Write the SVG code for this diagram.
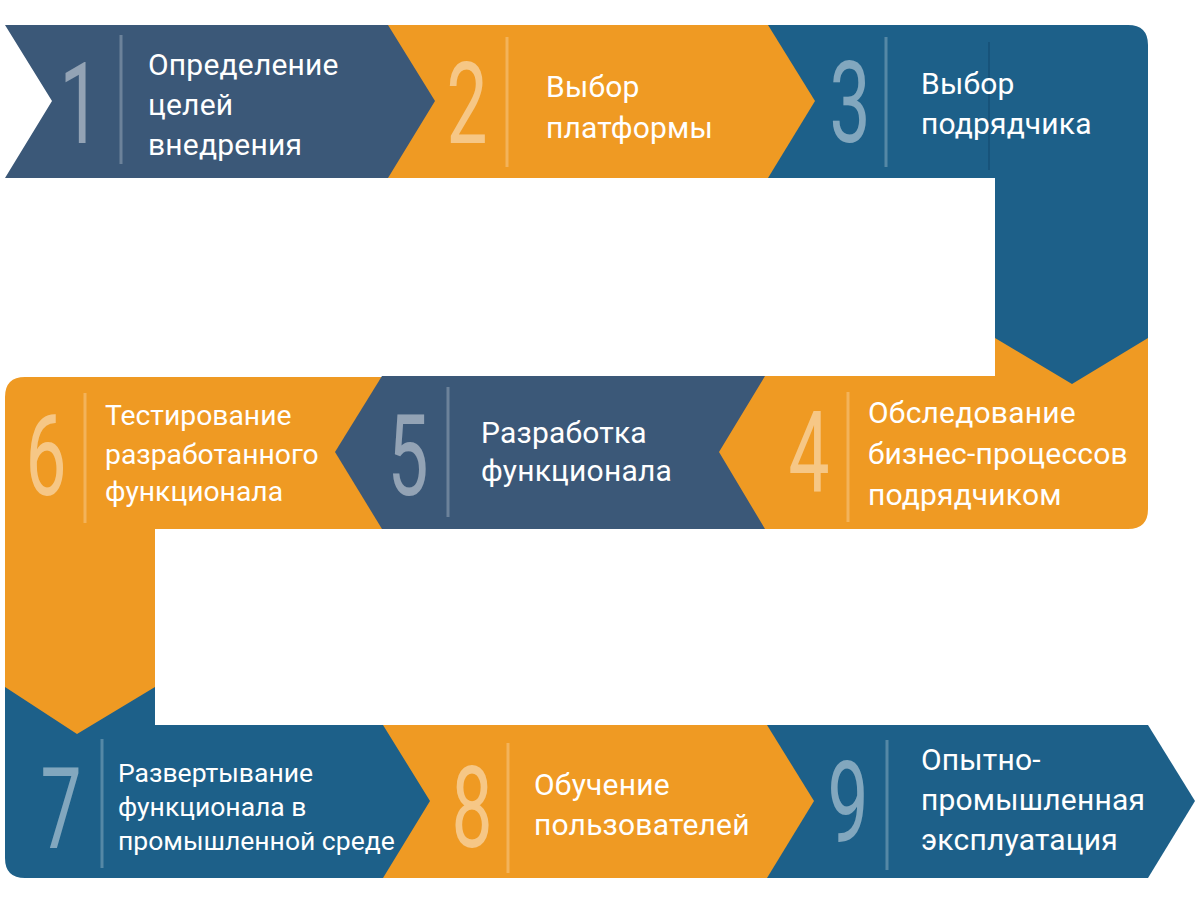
<svg xmlns="http://www.w3.org/2000/svg" width="1200" height="915" viewBox="0 0 1200 915">
<style>
.slate{fill:#3B5878}
.orange{fill:#EF9A23}
.blue{fill:#1D6089}
.num{font-family:Roboto,"Liberation Sans",sans-serif;font-weight:400;font-size:114px;fill:#fff;fill-opacity:0.45;text-anchor:middle}
.div{stroke:#fff;stroke-opacity:0.25;stroke-width:3}
.lbl{font-family:Roboto,"Liberation Sans",sans-serif;font-size:30px;letter-spacing:0.2px;fill:#fff}
.lbl6{font-family:Roboto,"Liberation Sans",sans-serif;font-size:28.3px;fill:#fff}
.lbl7{font-family:Roboto,"Liberation Sans",sans-serif;font-size:26.5px;fill:#fff}
</style>
<rect width="1200" height="915" fill="#fff"/>
<g id="connectors"></g>
<g id="step9">
<path class="blue" d="M767,725 H1148 L1195,801 L1148,878 H767 Z"/>
<text class="num" transform="translate(848,842) scale(0.64,1)">9</text>
<line class="div" x1="887" y1="740" x2="887" y2="870"/>
<text class="lbl" x="921"><tspan x="921" y="770">Опытно-</tspan><tspan x="921" y="810">промышленная</tspan><tspan x="921" y="850">эксплуатация</tspan></text>
</g>
<g id="step8">
<path class="orange" d="M383,725 H767 L814,801 L767,878 H383 Z"/>
<text class="num" transform="translate(472,847) scale(0.64,1)">8</text>
<line class="div" x1="508" y1="743" x2="508" y2="873"/>
<text class="lbl" x="534"><tspan x="534" y="795">Обучение</tspan><tspan x="534" y="835">пользователей</tspan></text>
</g>
<g id="step7">
<path class="blue" d="M5,687 H155 V725 H383 L430,801 L383,878 H25 Q5,878 5,858 Z"/>
<text class="num" transform="translate(61,848) scale(0.64,1)">7</text>
<line class="div" x1="102" y1="739" x2="102" y2="868"/>
<text class="lbl7" x="118"><tspan x="118" y="782">Развертывание</tspan><tspan x="118" y="816">функционала в</tspan><tspan x="118" y="850">промышленной среде</tspan></text>
</g>
<g id="step6">
<path class="orange" d="M25,377 H382 V529 H155 V687 L77,734 L5,687 V397 Q5,377 25,377 Z"/>
<text class="num" transform="translate(46,495) scale(0.64,1)">6</text>
<line class="div" x1="85" y1="393" x2="85" y2="523"/>
<text class="lbl6" x="105"><tspan x="105" y="425">Тестирование</tspan><tspan x="105" y="464">разработанного</tspan><tspan x="105" y="501">функционала</tspan></text>
</g>
<g id="step5">
<path class="slate" d="M382,376 H765 V529 H382 L335,452 Z"/>
<text class="num" transform="translate(408,495) scale(0.64,1)">5</text>
<line class="div" x1="448" y1="387" x2="448" y2="517"/>
<text class="lbl" x="481"><tspan x="481" y="443">Разработка</tspan><tspan x="481" y="481">функционала</tspan></text>
</g>
<g id="step4">
<path class="orange" d="M765,376 H995 V338 H1148 V509 Q1148,529 1128,529 H765 L719,452 Z"/>
<text class="num" transform="translate(809,492) scale(0.64,1)">4</text>
<line class="div" x1="848" y1="392" x2="848" y2="522"/>
<text class="lbl" x="868"><tspan x="868" y="423">Обследование</tspan><tspan x="868" y="464">бизнес-процессов</tspan><tspan x="868" y="505">подрядчиком</tspan></text>
</g>
<g id="step3">
<path class="blue" d="M768,25 H1128 Q1148,25 1148,45 V338 L1072,384 L995,338 V178 H768 Z"/>
<line x1="989" y1="42" x2="989" y2="170" stroke="#17537A" stroke-width="2"/>
<text class="num" transform="translate(850,142) scale(0.64,1)">3</text>
<line class="div" x1="886" y1="37" x2="886" y2="167"/>
<text class="lbl" x="921"><tspan x="921" y="94">Выбор</tspan><tspan x="921" y="134">подрядчика</tspan></text>
</g>
<g id="step2">
<path class="orange" d="M388,25 H768 L815,101 L768,178 H388 Z"/>
<text class="num" transform="translate(467,143) scale(0.64,1)">2</text>
<line class="div" x1="507" y1="37" x2="507" y2="167"/>
<text class="lbl" x="546"><tspan x="546" y="97">Выбор</tspan><tspan x="546" y="138">платформы</tspan></text>
</g>
<g id="step1">
<path class="slate" d="M5,25 H388 L435,101 L388,178 H5 L52,101 Z"/>
<text class="num" transform="translate(80,143) scale(0.64,1)">1</text>
<line class="div" x1="121" y1="35" x2="121" y2="164"/>
<text class="lbl" x="148"><tspan x="148" y="75">Определение</tspan><tspan x="148" y="115">целей</tspan><tspan x="148" y="155">внедрения</tspan></text>
</g>
</svg>
